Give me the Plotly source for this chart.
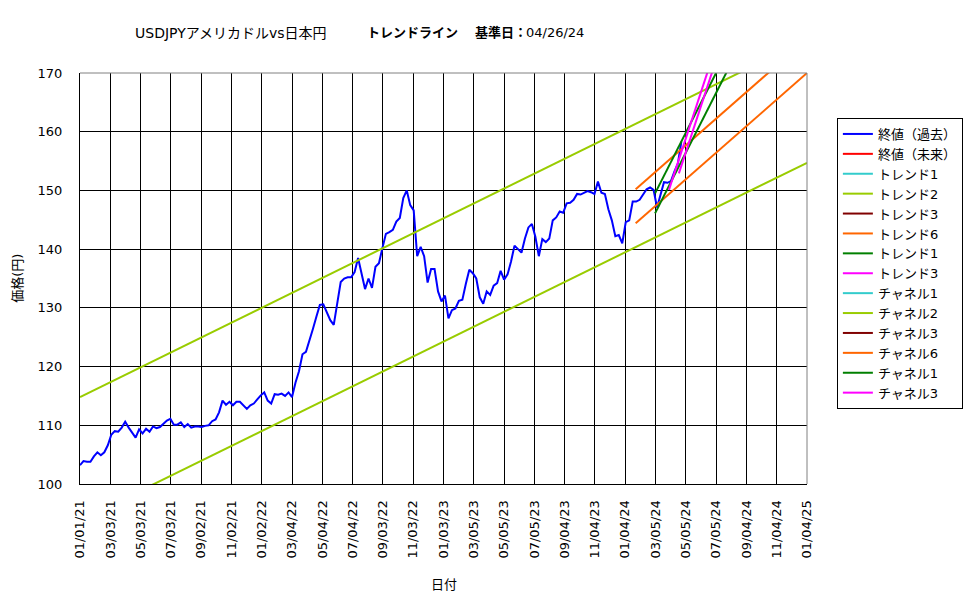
import pandas as pd
import plotly.graph_objects as go

# ---- data ----
week_start = "2021-01-01"
week_end = "2024-04-26"
close_past = [
    # 2021
    103.2, 103.9, 103.8, 103.8, 104.7, 105.4, 104.9, 105.4, 106.6, 108.4,
    109.0, 108.9, 109.6, 110.6, 109.6, 108.8, 107.9, 109.3, 108.6, 109.4,
    108.9, 109.8, 109.5, 109.7, 110.2, 110.8, 111.1, 110.1, 110.1, 110.5,
    109.7, 110.2, 109.6, 109.8, 109.8, 109.7, 109.9, 110.0, 110.7, 111.0,
    112.2, 114.2, 113.5, 114.0, 113.4, 114.0, 114.0, 113.4, 112.8, 113.4,
    113.7, 114.4, 115.1,
    # 2022
    115.6, 114.2, 113.7, 115.3, 115.2, 115.4, 115.0, 115.6, 114.8, 117.3,
    119.2, 122.1, 122.5, 124.3, 126.4, 128.5, 130.5, 130.6, 129.2, 127.9,
    127.1, 130.9, 134.4, 135.0, 135.2, 135.2, 136.1, 138.5, 136.1, 133.2,
    135.0, 133.4, 137.0, 137.6, 140.2, 142.6, 142.9, 143.3, 144.7, 145.3,
    148.7, 150.0, 147.5, 146.6, 138.8, 140.4, 138.8, 134.3, 136.6, 136.6,
    132.8, 131.1,
    # 2023
    132.1, 128.2, 129.6, 129.9, 131.2, 131.4, 134.1, 136.5, 135.9, 135.0,
    131.8, 130.7, 132.8, 132.2, 133.8, 134.2, 136.3, 134.8, 135.7, 137.9,
    140.6, 140.0, 139.4, 141.8, 143.7, 144.3, 142.1, 138.8, 141.7, 141.2,
    141.8, 144.9, 145.4, 146.4, 146.2, 147.8, 147.9, 148.4, 149.4, 149.3,
    149.6, 149.9, 149.7, 149.4, 151.5, 149.6, 149.4, 146.8, 144.9, 142.2,
    142.4, 141.0,
    # 2024
    144.6, 144.9, 148.1, 148.1, 148.4, 149.3, 150.2, 150.5, 150.1, 147.1,
    149.1, 151.4, 151.3, 151.6, 153.2, 154.6, 158.3,
]

# trend / channel lines: name, colour, start date, start value, end date, end value
line_names = ["トレンド2", "チャネル2", "トレンド6", "チャネル6",
              "トレンド1", "チャネル1", "トレンド3", "チャネル3"]
line_colors = ["#99CC00", "#99CC00", "#FF6600", "#FF6600",
               "#008000", "#008000", "#FF00FF", "#FF00FF"]
line_x0 = ["2021-01-01", "2021-01-01", "2024-01-25", "2024-01-25",
           "2024-03-04", "2024-03-04", "2024-04-01", "2024-04-21"]
line_y0 = [93.8, 114.8, 144.4, 150.2, 146.1, 149.5, 150.1, 152.9]
line_x1 = ["2025-01-04", "2025-01-04", "2025-01-04", "2025-01-04",
           "2024-09-01", "2024-09-01", "2024-07-01", "2024-07-01"]
line_y1 = [154.7, 175.7, 170.0, 175.8, 176.3, 179.7, 173.6, 171.2]

legend_names = ["終値（過去）", "終値（未来）", "トレンド1", "トレンド2", "トレンド3",
                "トレンド6", "トレンド1", "トレンド3", "チャネル1", "チャネル2",
                "チャネル3", "チャネル6", "チャネル1", "チャネル3"]
legend_colors = ["#0000FF", "#FF0000", "#33CCCC", "#99CC00", "#800000",
                 "#FF6600", "#008000", "#FF00FF", "#33CCCC", "#99CC00",
                 "#800000", "#FF6600", "#008000", "#FF00FF"]

x_tick_vals = ["2021-01-01", "2021-03-03", "2021-05-03", "2021-07-03", "2021-09-02",
               "2021-11-02", "2022-01-02", "2022-03-04", "2022-05-04", "2022-07-04",
               "2022-09-03", "2022-11-03", "2023-01-03", "2023-03-05", "2023-05-05",
               "2023-07-05", "2023-09-04", "2023-11-04", "2024-01-04", "2024-03-05",
               "2024-05-05", "2024-07-05", "2024-09-04", "2024-11-04", "2025-01-04"]
x_tick_text = ["01/01/21", "03/03/21", "05/03/21", "07/03/21", "09/02/21",
               "11/02/21", "01/02/22", "03/04/22", "05/04/22", "07/04/22",
               "09/03/22", "11/03/22", "01/03/23", "03/05/23", "05/05/23",
               "07/05/23", "09/04/23", "11/04/23", "01/04/24", "03/05/24",
               "05/05/24", "07/05/24", "09/04/24", "11/04/24", "01/04/25"]
y_tick_vals = [100, 110, 120, 130, 140, 150, 160, 170]

title_parts = ["USDJPYアメリカドルvs日本円", "<b>トレンドライン</b>", "<b>基準日：</b>", "04/26/24"]
title_left_px = [133, 366, 475, 526]
title_sizes = [14, 13, 13, 13]

FONT = "DejaVu Sans, Noto Sans CJK JP, sans-serif"
PL, PR, PT, PB = 80, 810, 73, 484

dates = pd.date_range(week_start, week_end, freq="W-FRI")

fig = go.Figure()

# legend entries (in legend order)
for nm, col in zip(legend_names, legend_colors):
    fig.add_trace(go.Scatter(x=[None], y=[None], mode="lines", name=nm,
                             line=dict(color=col, width=2), showlegend=True,
                             hoverinfo="skip"))

fig.add_trace(go.Scatter(x=dates, y=close_past, mode="lines", showlegend=False,
                         line=dict(color="#0000FF", width=2)))

for nm, col, a0, b0, a1, b1 in zip(line_names, line_colors, line_x0, line_y0,
                                   line_x1, line_y1):
    fig.add_trace(go.Scatter(x=[a0, a1], y=[b0, b1], mode="lines", showlegend=False,
                             name=nm, line=dict(color=col, width=2)))

annotations = []
for txt, px, sz in zip(title_parts, title_left_px, title_sizes):
    annotations.append(dict(text=txt, xref="paper", yref="paper",
                            x=(px - PL) / (PR - PL), y=(PB - 33) / (PB - PT),
                            xanchor="left", yanchor="middle", showarrow=False,
                            font=dict(family=FONT, size=sz, color="black")))
annotations += [
    dict(text="日付", xref="paper", yref="paper", x=0.5, y=(PB - 584) / (PB - PT),
         xanchor="center", yanchor="middle", showarrow=False,
         font=dict(family=FONT, size=13, color="black")),
    dict(text="価格(円)", xref="paper", yref="paper", x=(17 - PL) / (PR - PL), y=0.5,
         xanchor="center", yanchor="middle", showarrow=False, textangle=-90,
         font=dict(family=FONT, size=13, color="black")),
]

fig.update_layout(
    width=975, height=599,
    margin=dict(l=PL, r=975 - PR, t=PT, b=599 - PB),
    paper_bgcolor="white", plot_bgcolor="white",
    font=dict(family=FONT, size=13, color="black"),
    showlegend=True,
    legend=dict(x=(840 - PL) / (PR - PL), y=(PB - 118) / (PB - PT),
                xanchor="left", yanchor="top",
                bordercolor="black", borderwidth=1, bgcolor="white",
                font=dict(family=FONT, size=13, color="black"),
                itemwidth=30, tracegroupgap=0),
    xaxis=dict(
        type="date", range=["2021-01-01", "2025-01-04"],
        tickmode="array", tickvals=x_tick_vals, ticktext=x_tick_text,
        tickangle=-90, showgrid=True, gridcolor="black", gridwidth=1,
        showline=True, linecolor="black", linewidth=1, ticks="",
        tickfont=dict(family=FONT, size=13, color="black"),
        ticklabelstandoff=10, zeroline=False,
    ),
    yaxis=dict(
        range=[100, 170], tickmode="array", tickvals=y_tick_vals,
        showgrid=True, gridcolor="black", gridwidth=1,
        showline=True, linecolor="black", linewidth=1, ticks="",
        tickfont=dict(family=FONT, size=13, color="black"),
        ticklabelstandoff=14, zeroline=False,
    ),
    shapes=[
        dict(type="line", xref="paper", yref="paper", x0=0, x1=1, y0=1, y1=1,
             line=dict(color="#808080", width=1), layer="above"),
        dict(type="line", xref="paper", yref="paper", x0=1, x1=1, y0=0, y1=1,
             line=dict(color="#808080", width=1), layer="above"),
    ],
    annotations=annotations,
)

fig.write_html("out.html")
